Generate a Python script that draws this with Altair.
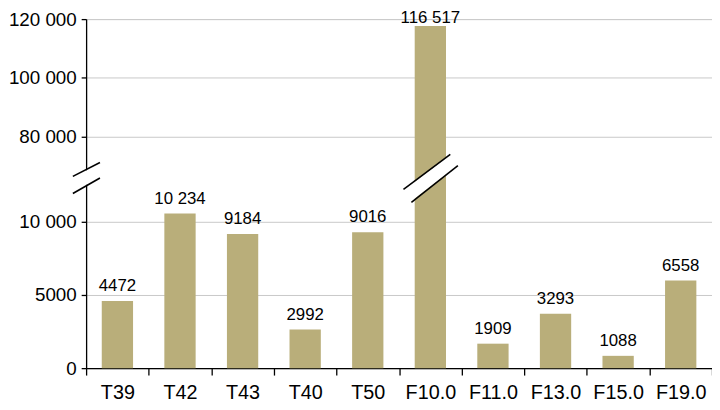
import altair as alt
import pandas as pd

# ---- data ----
categories = ["T39", "T42", "T43", "T40", "T50", "F10.0", "F11.0", "F13.0", "F15.0", "F19.0"]
bar_heights = [4590, 10550, 9150, 2640, 9270, 117660, 1670, 3710, 840, 5980]
bar_labels = ["4472", "10 234", "9184", "2992", "9016", "116 517", "1909", "3293", "1088", "6558"]

# broken axis: lower segment 0..~12 000 shown 1:1, upper segment starts at 80 000, compressed 1:5
UPPER_START = 80000
UPPER_BASE = 15820
UPPER_RATIO = 0.2
Y_TOP = 23820
y_tick_values = [0, 5000, 10000, 15820, 19820, 23820]

BAR_COLOR = "#b9ae7a"
FONT = "Liberation Sans"

df = pd.DataFrame({"cat": categories, "value": bar_heights, "label": bar_labels})

calc = f"datum.value < 20000 ? datum.value : {UPPER_BASE} + (datum.value - {UPPER_START}) * {UPPER_RATIO}"

label_expr = (
    "datum.value < 12000 ? (datum.value >= 10000 ? replace(format(datum.value, ','), ',', ' ') : format(datum.value, 'd'))"
    f" : replace(format((datum.value - {UPPER_BASE}) * 5 + {UPPER_START}, ','), ',', ' ')"
)

x_enc = alt.X(
    "cat:N",
    sort=categories,
    scale=alt.Scale(paddingInner=0, paddingOuter=0),
    axis=alt.Axis(
        title=None, labelAngle=0, labelFontSize=20, labelColor="black", labelPadding=8,
        tickBand="extent", tickSize=7, tickColor="black", tickWidth=1.3,
        domainColor="black", domainWidth=1.3, grid=False, labelFont=FONT,
    ),
)
y_enc = alt.Y(
    "d:Q",
    scale=alt.Scale(domain=[0, Y_TOP], nice=False, zero=True),
    axis=alt.Axis(
        title=None, values=y_tick_values, labelExpr=label_expr, labelFontSize=19,
        labelColor="black", labelPadding=5, labelFont=FONT, tickSize=5, tickColor="black",
        tickWidth=1.3, domainColor="black", domainWidth=1.3, grid=True,
        gridColor="#c8c8c8", gridWidth=1, zindex=0,
    ),
)

base = alt.Chart(df).transform_calculate(d=calc)

bars = base.mark_bar(color=BAR_COLOR, width=alt.RelativeBandSize(0.5)).encode(x=x_enc, y=y_enc)

text_low = base.transform_filter("datum.d < 20000").mark_text(
    baseline="alphabetic", dy=-10, fontSize=17, font=FONT, color="black"
).encode(x=alt.X("cat:N", sort=categories), y="d:Q", text="label:N")

text_high = base.transform_filter("datum.d >= 20000").mark_text(
    baseline="alphabetic", dy=-3, fontSize=17, font=FONT, color="black"
).encode(x=alt.X("cat:N", sort=categories), y="d:Q", text="label:N")

one = alt.Data(values=[{"k": 0}])


def seg(x1, x2, y1, y2, color, width):
    return alt.Chart(one).mark_rule(color=color, strokeWidth=width, strokeCap="butt").encode(
        x=alt.value(x1), x2=alt.value(x2), y=alt.Y(datum=y1), y2=alt.Y2(datum=y2)
    )


# axis-break decoration (on the y axis and across the tall bar)
decor = [
    seg(-13.4, 14, 12501, 13503, "white", 13),
    seg(-13.4, 14, 13087, 14033, "black", 1.6),
    seg(-13.4, 14, 11915, 12974, "black", 1.6),
    seg(325, 372.2, 11762, 14202, "white", 13.5),
    seg(321, 368.3, 12206, 14589, "black", 1.6),
    seg(329, 376, 11319, 13815, "black", 1.6),
]

chart = alt.layer(bars, *decor, text_low, text_high).properties(
    width=633,
    height=353,
    autosize=alt.AutoSizeParams(type="none"),
    padding={"left": 79, "top": 9, "right": 0, "bottom": 32},
    background="white",
).configure_view(stroke=None).configure(font=FONT)

chart.save("out.html", embed_options={"renderer": "svg", "actions": False})
